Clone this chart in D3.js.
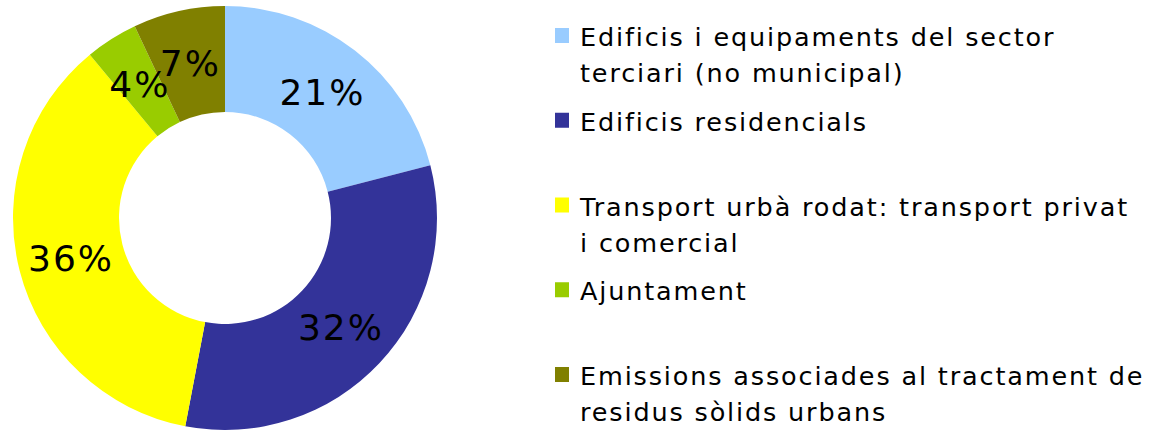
<!DOCTYPE html>
<html>
<head>
<meta charset="utf-8">
<script src="https://cdn.jsdelivr.net/npm/d3@7"></script>
<style>
  body { margin: 0; background: #fff; }
  text { font-family: "DejaVu Sans", Verdana, sans-serif; fill: #000; }
</style>
</head>
<body>
<div id="chart"></div>
<script>
// Categories (legend labels, line breaks as in the original)
const categories = [
  'Edificis i equipaments del sector\nterciari (no municipal)',
  'Edificis residencials',
  'Transport urbà rodat: transport privat\ni comercial',
  'Ajuntament',
  'Emissions associades al tractament de\nresidus sòlids urbans'
];
const values = [21, 32, 36, 4, 7];
const colors = ['#99ccff', '#333399', '#ffff00', '#99cc00', '#808000'];

const width = 1151;
const height = 430;

const svg = d3.select('#chart')
  .append('svg')
  .attr('width', width)
  .attr('height', height);

// Donut
const cx = 225, cy = 218;
const outerR = 212, innerR = 106;

const pie = d3.pie().sort(null).value(d => d.value);
const arc = d3.arc().innerRadius(innerR).outerRadius(outerR);

const data = categories.map((c, i) => ({ name: c, value: values[i], color: colors[i] }));
const arcs = pie(data);

const g = svg.append('g').attr('transform', `translate(${cx},${cy})`);

g.selectAll('path')
  .data(arcs)
  .enter()
  .append('path')
  .attr('d', arc)
  .style('fill', d => d.data.color);

g.selectAll('.label')
  .data(arcs)
  .enter()
  .append('text')
  .attr('class', 'label')
  .attr('x', d => arc.centroid(d)[0])
  .attr('y', d => arc.centroid(d)[1])
  .attr('text-anchor', 'middle')
  .attr('dy', '0.36em')
  .style('font-size', '36px')
  .style('letter-spacing', '2px')
  .text(d => d.data.value + '%');

// Legend
const legendY = d3.scalePoint()
  .domain(d3.range(categories.length))
  .range([28, 367]);

const legend = svg.append('g').attr('class', 'legend');

const items = legend.selectAll('.legend-item')
  .data(data)
  .enter()
  .append('g')
  .attr('class', 'legend-item')
  .attr('transform', (d, i) => `translate(555,${legendY(i)})`);

items.append('rect')
  .attr('width', 14)
  .attr('height', 15)
  .style('fill', d => d.color);

items.append('text')
  .attr('x', 25)
  .attr('y', 18)
  .style('font-size', '25.5px')
  .style('letter-spacing', '1.85px')
  .selectAll('tspan')
  .data(d => d.name.split('\n'))
  .enter()
  .append('tspan')
  .attr('x', 25)
  .attr('dy', (d, i) => i === 0 ? 0 : 36)
  .text(d => d);
</script>
</body>
</html>
